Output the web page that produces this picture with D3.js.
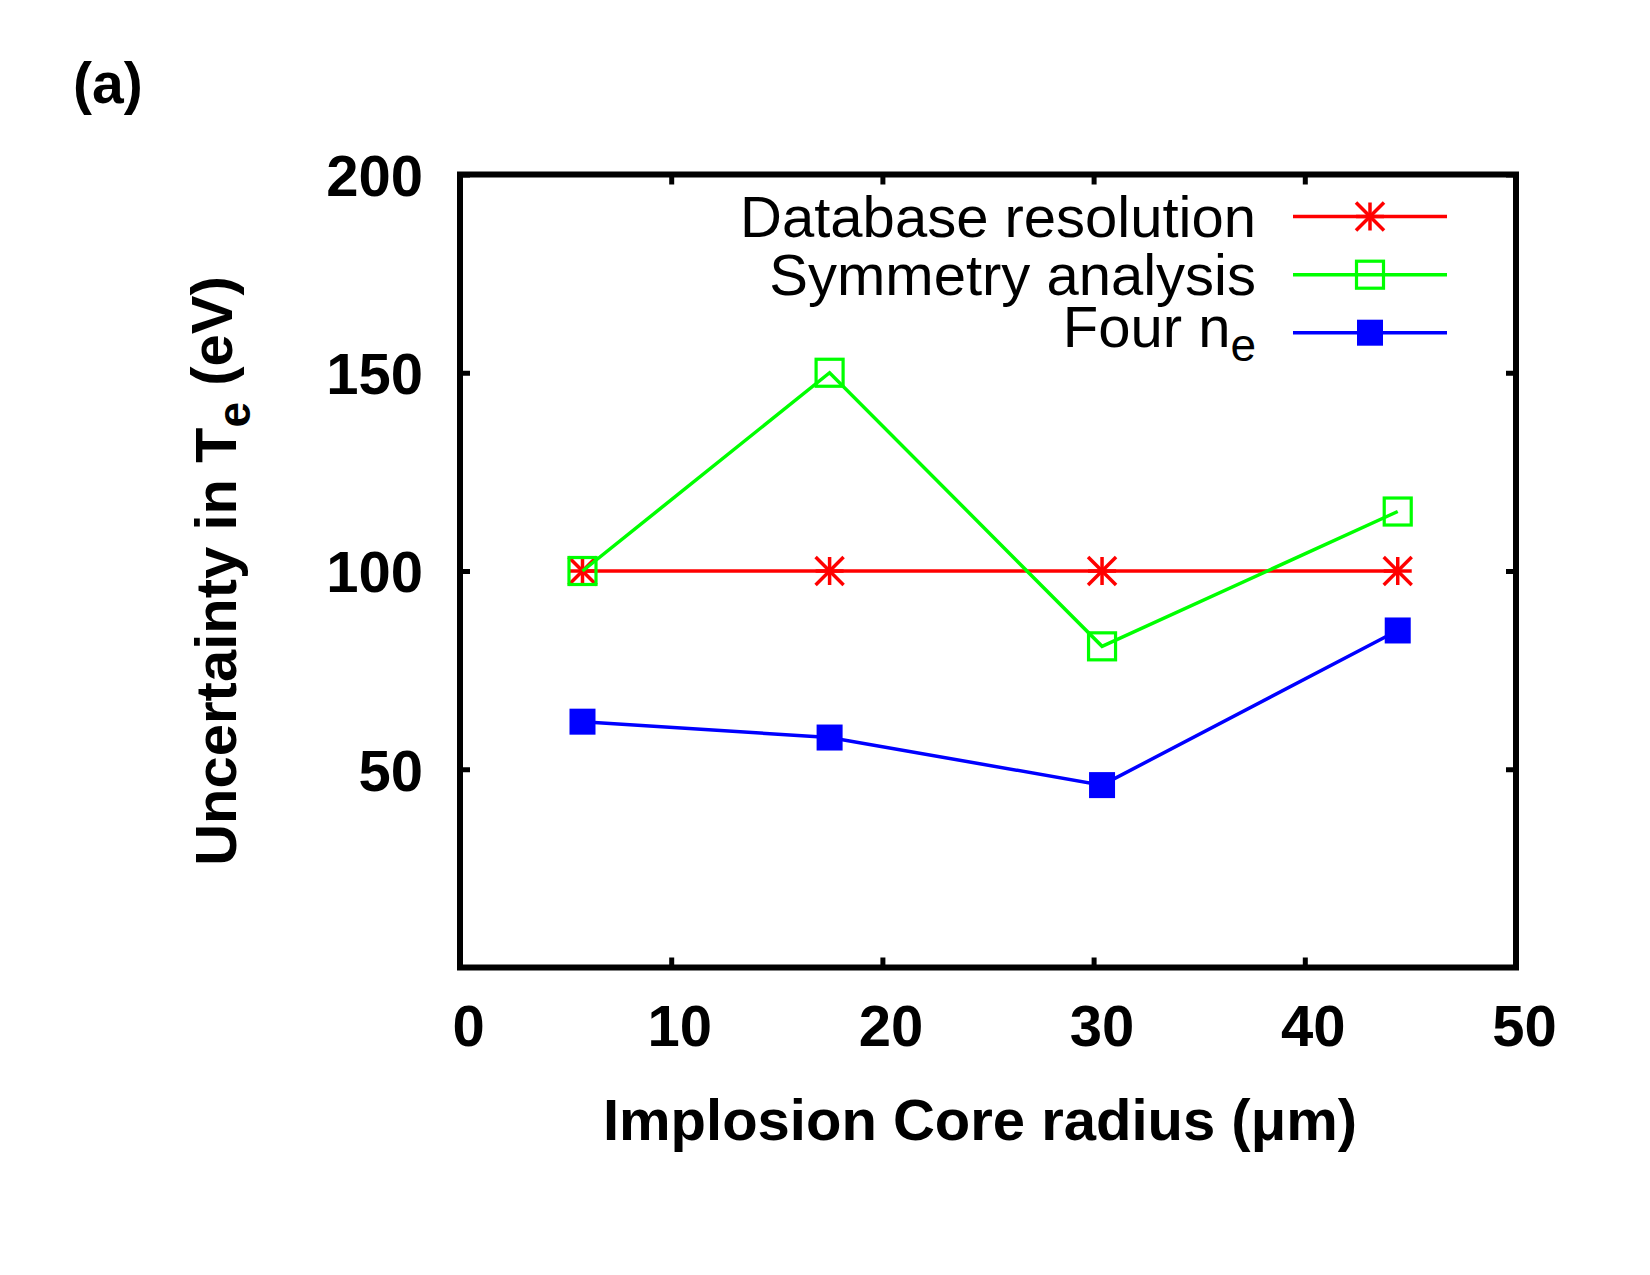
<!DOCTYPE html>
<html>
<head>
<meta charset="utf-8">
<script src="https://cdn.jsdelivr.net/npm/d3@7"></script>
<style>
	html, body { margin: 0; padding: 0; background: #fff; }
	svg text { font-family: "Liberation Sans", Arial, Helvetica, sans-serif; }
</style>
</head>
<body>
<svg id="chart" width="1650" height="1275"></svg>
<script>
// values
const radius = [5.8, 17.5, 30.4, 44.4];
const databaseResolution = [100, 100, 100, 100];
const symmetryAnalysis = [100, 150, 81, 115];
const fourNe = [62, 58, 46, 85];

const xTicks = [0, 10, 20, 30, 40, 50];
const yTicks = [50, 100, 150, 200];
const seriesNames = ["Database resolution", "Symmetry analysis", "Four n"];
const seriesColors = ["#ff0000", "#00ff00", "#0000ff"];
const seriesMarkers = ["star", "openSquare", "filledSquare"];

const margin = { left: 460, right: 1516, top: 174.5, bottom: 967.5 };
const fontSize = 58;

const svg = d3.select("#chart");

const xScale = d3.scaleLinear()
	.domain([0, 50])
	.range([margin.left, margin.right]);

const yScale = d3.scaleLinear()
	.domain([0, 200])
	.range([margin.bottom, margin.top]);

// panel label
svg.append("text")
	.attr("x", 73)
	.attr("y", 103)
	.style("font-size", "57px")
	.style("font-weight", "bold")
	.text("(a)");

/* Axes: ticks point inwards and are mirrored on top/right */
function styleAxis(g) {
	g.select(".domain").remove();
	g.selectAll("line")
		.style("stroke", "#000")
		.style("stroke-width", "5px");
	g.selectAll("text")
		.style("font-size", fontSize + "px")
		.style("font-weight", "bold")
		.style("fill", "#000");
}

const xAxis = d3.axisBottom(xScale)
	.tickValues(xTicks)
	.tickSizeInner(-10)
	.tickSizeOuter(0)
	.tickPadding(37);

svg.append("g")
	.attr("class", "x-axis")
	.attr("transform", "translate(0," + margin.bottom + ")")
	.call(xAxis)
	.call(styleAxis)
	.selectAll("text")
	.attr("dx", 8);

svg.append("g")
	.attr("class", "x-axis-top")
	.attr("transform", "translate(0," + margin.top + ")")
	.call(d3.axisTop(xScale).tickValues(xTicks).tickSizeInner(-10).tickSizeOuter(0).tickFormat(""))
	.call(styleAxis);

const yAxis = d3.axisLeft(yScale)
	.tickValues(yTicks)
	.tickSizeInner(-10)
	.tickSizeOuter(0)
	.tickPadding(37);

svg.append("g")
	.attr("class", "y-axis")
	.attr("transform", "translate(" + margin.left + ",0)")
	.call(yAxis)
	.call(styleAxis)
	.selectAll("text")
	.attr("dy", "0.36em");

svg.append("g")
	.attr("class", "y-axis-right")
	.attr("transform", "translate(" + margin.right + ",0)")
	.call(d3.axisRight(yScale).tickValues(yTicks).tickSizeInner(-10).tickSizeOuter(0).tickFormat(""))
	.call(styleAxis);

// plot border
svg.append("rect")
	.attr("x", margin.left)
	.attr("y", margin.top)
	.attr("width", margin.right - margin.left)
	.attr("height", margin.bottom - margin.top)
	.attr("fill", "none")
	.attr("stroke", "#000")
	.attr("stroke-width", 6);

// axis titles
svg.append("text")
	.attr("x", (margin.left + margin.right) / 2 - 8)
	.attr("y", 1140)
	.attr("text-anchor", "middle")
	.style("font-size", fontSize + "px")
	.style("font-weight", "bold")
	.text("Implosion Core radius (μm)");

const yTitle = svg.append("text")
	.attr("transform", "translate(236," + ((margin.top + margin.bottom) / 2) + ") rotate(-90)")
	.attr("text-anchor", "middle")
	.style("font-size", fontSize + "px")
	.style("font-weight", "bold");
yTitle.append("tspan").text("Uncertainty in T");
yTitle.append("tspan").attr("dy", "0.3em").style("font-size", "46px").text("e");
yTitle.append("tspan").attr("dy", "-0.3em").text(" (eV)");

/* Markers */
function drawMarker(g, type, color, cx, cy) {
	if (type == "star") {
		const r = 14;
		const segs = [[-r, 0, r, 0], [0, -r, 0, r], [-r, -r, r, r], [-r, r, r, -r]];
		segs.forEach(s => {
			g.append("line")
				.attr("x1", cx + s[0]).attr("y1", cy + s[1])
				.attr("x2", cx + s[2]).attr("y2", cy + s[3])
				.attr("stroke", color)
				.attr("stroke-width", 3.5);
		});
	}
	else if (type == "openSquare") {
		g.append("rect")
			.attr("x", cx - 13.5).attr("y", cy - 13.5)
			.attr("width", 27).attr("height", 27)
			.attr("fill", "none")
			.attr("stroke", color)
			.attr("stroke-width", 3.2);
	}
	else if (type == "filledSquare") {
		g.append("rect")
			.attr("x", cx - 13).attr("y", cy - 13)
			.attr("width", 26).attr("height", 26)
			.attr("fill", color);
	}
}

const line = d3.line()
	.x(d => xScale(d[0]))
	.y(d => yScale(d[1]));

const allSeries = [databaseResolution, symmetryAnalysis, fourNe];

allSeries.forEach((values, k) => {
	const pts = radius.map((r, i) => [r, values[i]]);
	const g = svg.append("g").attr("class", "series-" + k);
	g.append("path")
		.datum(pts)
		.attr("d", line)
		.attr("fill", "none")
		.attr("stroke", seriesColors[k])
		.attr("stroke-width", 3.5);
	pts.forEach(p => drawMarker(g, seriesMarkers[k], seriesColors[k], xScale(p[0]), yScale(p[1])));
});

/* Legend */
const legendY = [216.5, 274.7, 332.7];
const legend = svg.append("g").attr("class", "legend");
seriesNames.forEach((name, k) => {
	const ly = legendY[k];
	legend.append("line")
		.attr("x1", 1293).attr("x2", 1447)
		.attr("y1", ly).attr("y2", ly)
		.attr("stroke", seriesColors[k])
		.attr("stroke-width", 3.5);
	drawMarker(legend, seriesMarkers[k], seriesColors[k], 1370, ly);

	// the subscripted entry sits a little higher, as in the original
	const t = legend.append("text")
		.attr("x", 1256)
		.attr("y", ly + 20.5 - (k == 2 ? 6 : 0))
		.attr("text-anchor", "end")
		.style("font-size", "58px");
	t.append("tspan").text(name);
	if (k == 2) {
		t.append("tspan").attr("dy", "0.3em").style("font-size", "46px").text("e");
	}
});
</script>
</body>
</html>
